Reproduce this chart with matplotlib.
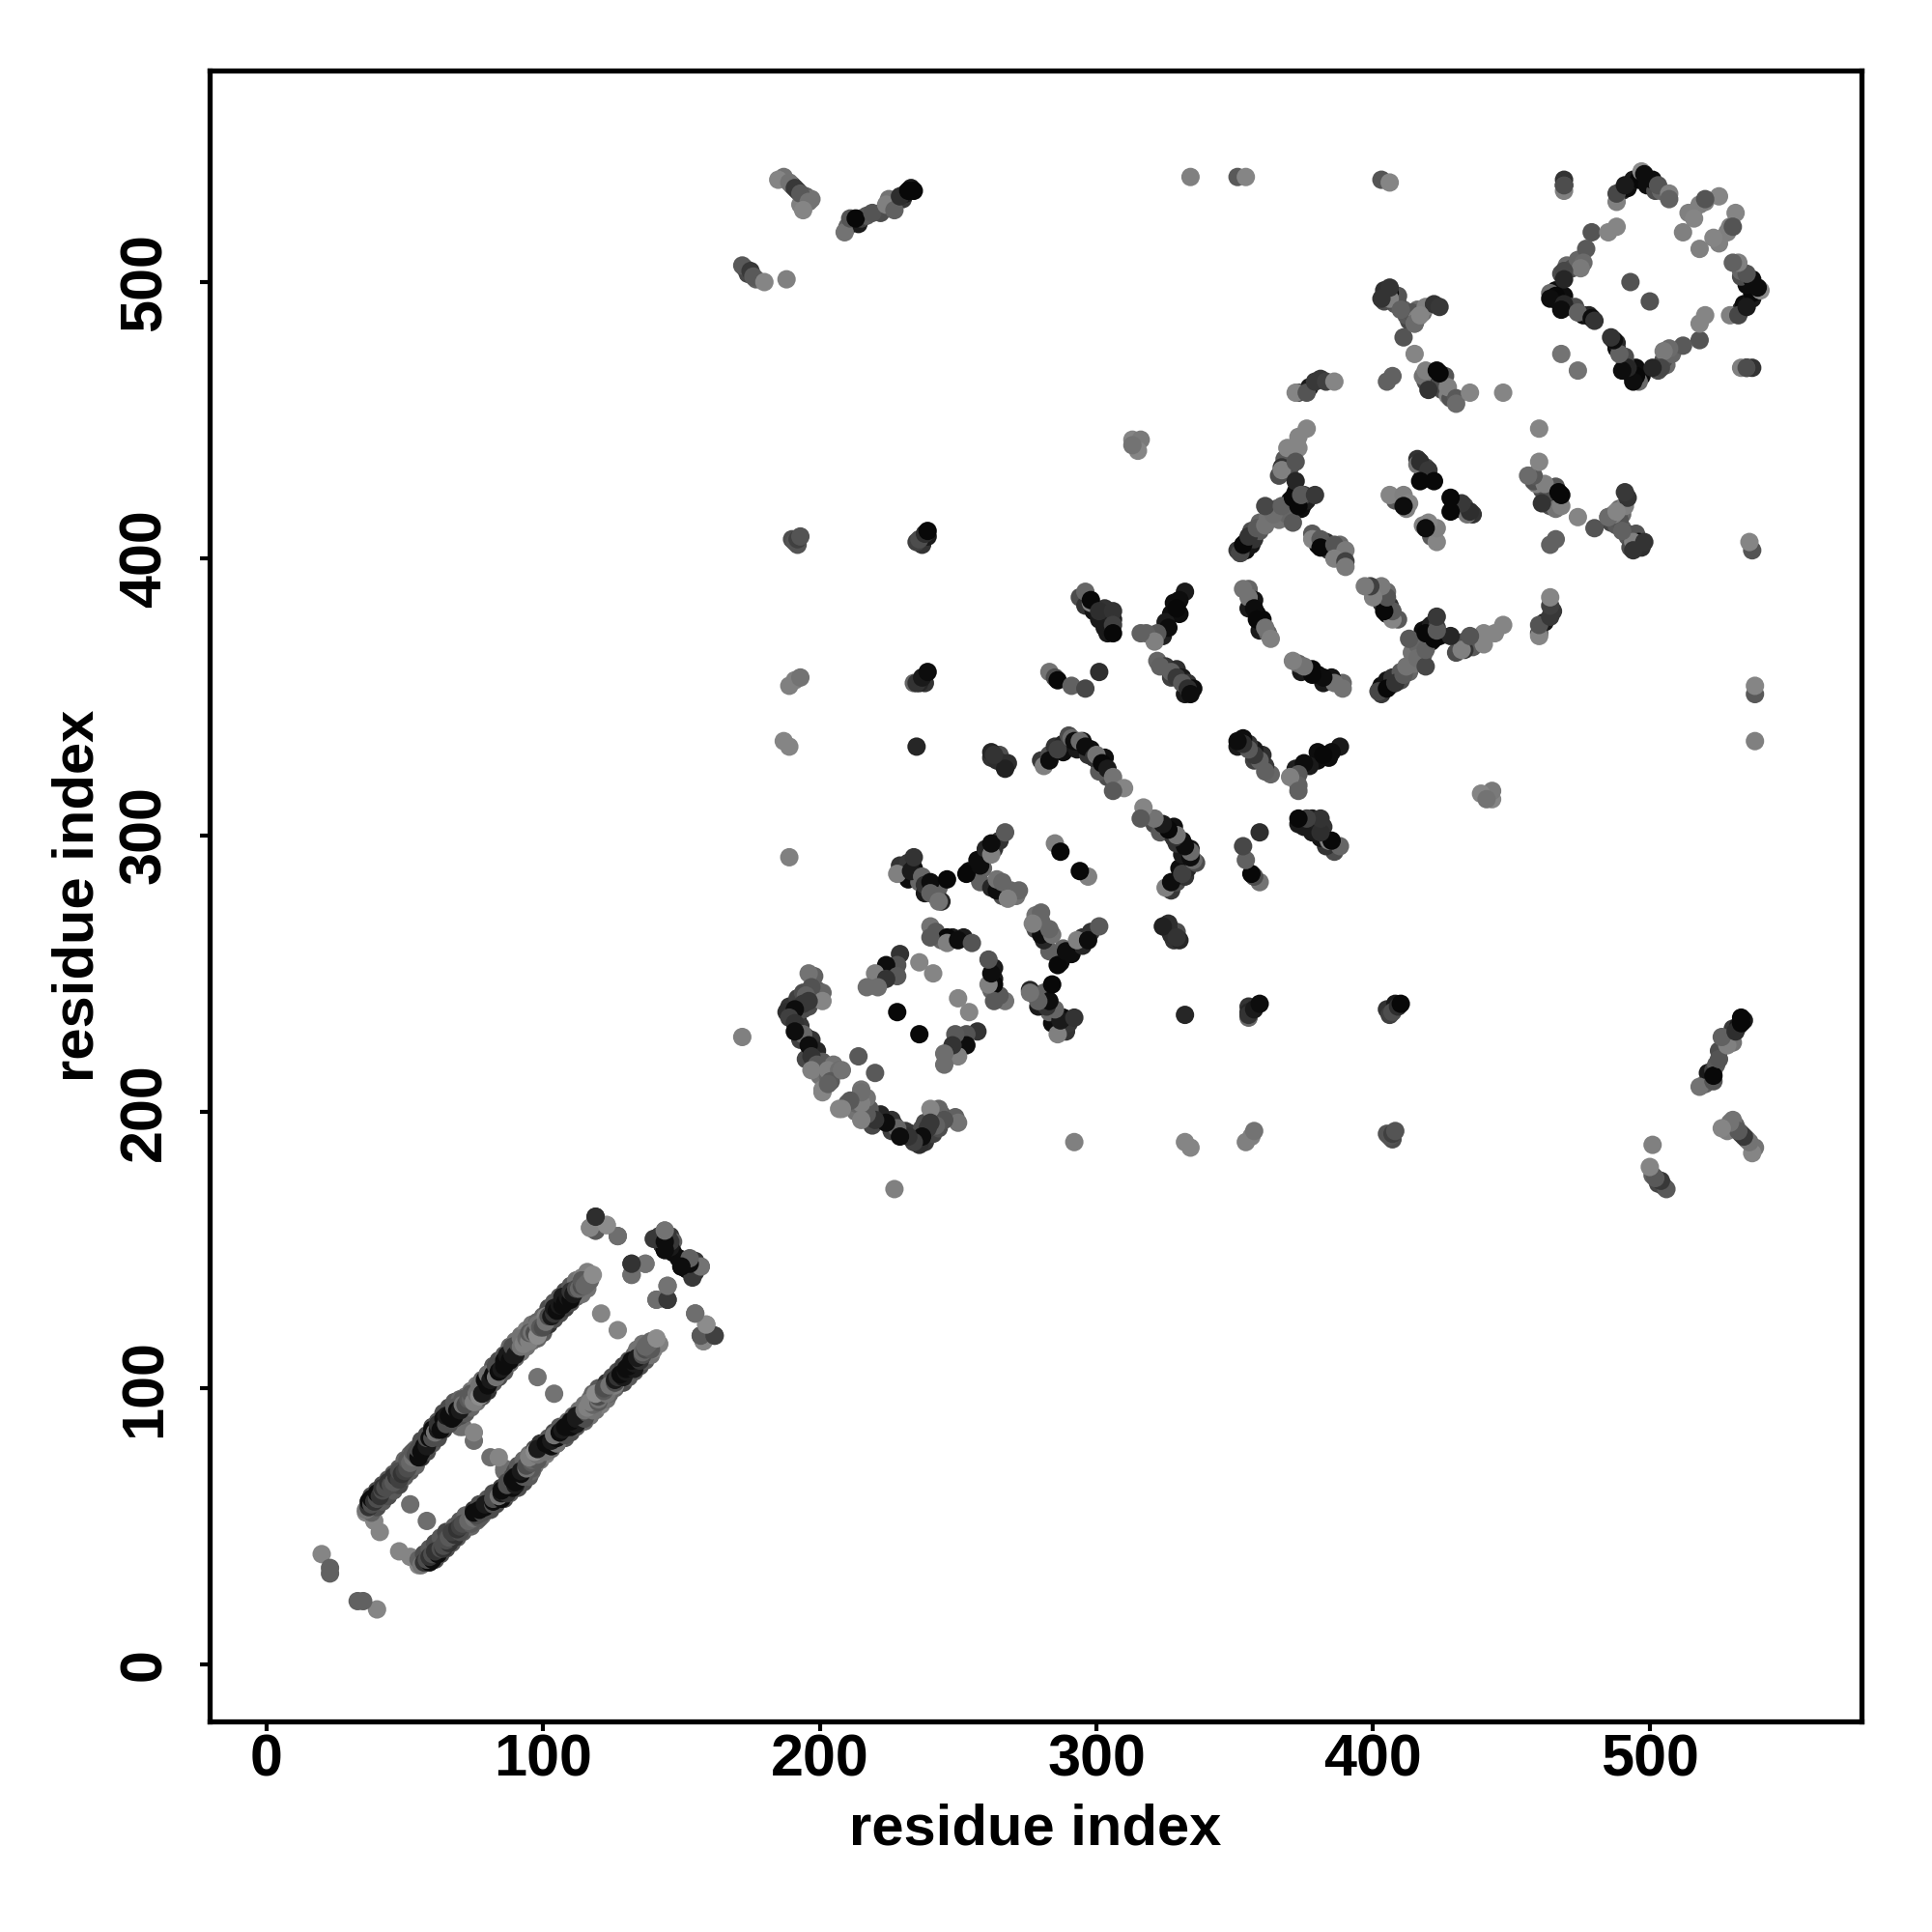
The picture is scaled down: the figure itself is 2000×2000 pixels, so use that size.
import numpy as np
import matplotlib
matplotlib.use("Agg")
import matplotlib.pyplot as plt

plt.rcParams['font.family'] = ['Liberation Sans', 'DejaVu Sans']

# contact map is symmetric, only the y > x half is listed, the rest gets mirrored
edge_x = [38,40,42,44,46,48,50,52,54,56,58,60,62,64,66,68,70,72,74,76,
          78,80,82,84,86,88,90,92,94,96,98,100,102,104,106,108,110,112,114,116]
edge_low = [55,57,59,61,63,65,68,70,72,75,77,80,82,85,87,89,90,91,93,95,
            97,99,102,104,106,109,111,113,115,117,118,120,123,125,127,129,131,133,134,136]
edge_high = [61,63,65,67,69,71,74,76,78,81,83,86,88,91,93,95,96,97,99,101,
             103,105,108,110,112,115,117,119,121,123,124,126,129,131,133,135,137,139,140,142]
edge_low_g = [.38,.3,.35,.3,.35,.28,.38,.35,.4,.2,.3,.35,.3,.25,.3,.3,.3,.35,.4,.45,
              .3,.2,.35,.3,.35,.4,.4,.45,.45,.45,.4,.35,.2,.3,.3,.25,.3,.4,.45,.45]
edge_high_g = [.3,.3,.3,.35,.35,.35,.4,.4,.4,.3,.3,.3,.35,.3,.3,.35,.4,.45,.45,.5,
               .4,.3,.35,.3,.35,.4,.45,.45,.5,.45,.4,.4,.3,.35,.35,.3,.35,.45,.5,.5]

band_x = [36,37,37,38,38,39,40,40,41,42,
          42,43,44,45,46,46,47,48,48,49,
          50,51,51,52,53,53,54,55,55,56,
          57,58,58,59,60,60,61,62,62,63,
          64,65,65,66,67,68,68,69,70,71,
          71,72,73,74,74,75,76,77,77,78,
          79,80,80,81,82,83,83,84,85,86,
          86,87,88,89,89,90,91,92,92,93,
          94,95,95,96,97,98,98,99,100,101,
          101,102,103,104,104,105,106,107,107,108,
          109,110,110,111,112,113,114,114,115,116,
          117,118]
band_y = [56,57,59,58,60,59,60,62,61,63,
          64,64,66,65,68,66,68,67,70,69,
          70,71,74,73,75,77,76,75,78,77,
          79,79,82,82,82,85,84,85,87,85,
          89,87,90,90,89,90,93,92,92,96,
          94,94,96,96,98,95,98,97,101,98,
          103,101,105,103,105,104,108,106,107,110,
          108,112,110,112,115,112,116,115,118,116,
          118,117,120,120,120,119,123,122,122,126,
          124,126,126,127,129,128,130,130,133,131,
          133,132,135,134,136,136,137,139,137,138,
          139,141]
band_g = [.45,.2,.05,.3,.05,.2,.3,.05,.2,.3,
          .2,.3,.2,.3,.2,.35,.2,.25,.3,.2,
          .25,.3,.35,.4,.45,.35,.3,.05,.3,.05,
          .05,.1,.3,.05,.3,.05,.45,.1,.2,.05,
          .05,.3,.1,.05,.05,.05,.35,.05,.1,.35,
          .45,.3,.35,.4,.35,.5,.45,.55,.45,.1,
          .05,.05,.45,.1,.05,.45,.3,.05,.1,.05,
          .05,.1,.05,.1,.3,.1,.3,.45,.45,.5,
          .4,.5,.35,.45,.3,.55,.45,.35,.3,.5,
          .45,.3,.1,.2,.1,.05,.1,.05,.1,.05,
          .1,.05,.2,.1,.3,.4,.3,.35,.4,.4,
          .4,.55]

near_x = [20,23,23,36,39,41,52,70,71,75,75,98,121]
near_y = [40,33,35,55,52,48,58,86,86,81,84,104,127]
near_g = [.52,.38,.38,.52,.52,.52,.43,.43,.43,.43,.52,.45,.52]

end_x = [142,146,143,149,151,152,155,
         117,119,119,123,127,132,132,137,140,144,145,147,144,
         153,150,154,153,157,141,145,145,155,157,158,159,162]
end_y = [155,155,152,147,146,143,145,
         158,157,162,159,155,141,145,145,154,157,153,153,150,
         146,144,141,144,144,132,137,132,127,119,117,123,119]
end_g = [.2,.22,.05,.05,.1,.22,.2,
         .52,.35,.25,.55,.43,.43,.22,.45,.22,.45,.05,.38,.05,
         .22,.05,.22,.05,.45,.43,.45,.2,.43,.35,.52,.55,.18]

cshape_x = [189,192,194,188,190,192,193,195,193,197,199,195,198,201,200,203,205,194,196,199,198,201,
            196,197,195,201,196,194,191,189,191,194,191,196,197,199,
            197,203,207,204,201,214,215,207,210]
cshape_y = [238,241,243,236,234,233,231,227,226,226,222,219,219,218,213,213,217,237,238,244,249,243,
            250,245,242,240,240,239,237,234,232,228,229,224,220,217,
            215,215,215,211,208,220,208,201,203]
cshape_g = [.2,.25,.3,.18,.12,.1,.22,.1,.25,.2,.15,.28,.22,.35,.45,.4,.45,.3,.3,.35,.38,.4,
            .45,.32,.38,.52,.22,.22,.05,.25,.2,.4,.05,.05,.2,.35,
            .5,.5,.43,.35,.52,.35,.45,.52,.38]

inner_x = [229,228,224,220,228,224,217,221,236,241,228,172]
inner_y = [257,253,253,250,249,248,245,245,254,250,236,227]
inner_g = [.2,.33,.05,.5,.35,.2,.43,.43,.52,.52,.03,.5]

hook_x = [229,232,234,235,232,236,238,241,243,244,254,256,257,259,260,263,265,258,262,265,266,271,241,244,248,252,
          228,233,234,237,238,240,240,242,243,246,
          253,258,262,262,264,264,266,267,269,272,268,
          240,242,246,240,246,250,255]
hook_y = [289,290,288,285,284,283,279,279,281,276,287,286,291,288,295,295,298,283,281,280,278,278,264,262,263,263,
          286,287,292,285,282,283,279,278,276,284,
          286,289,293,297,280,284,283,301,280,280,277,
          267,265,263,263,261,262,261]
hook_g = [.2,.22,.05,.2,.05,.4,.1,.3,.38,.15,.05,.2,.05,.4,.15,.2,.2,.38,.15,.1,.3,.45,.3,.4,.1,.1,
          .5,.1,.2,.4,.2,.05,.38,.38,.45,.03,
          .03,.05,.5,.05,.05,.45,.4,.35,.4,.4,.5,
          .45,.35,.03,.35,.5,.05,.33]

peak_x = [262,265,266,268,280,283,285,288,288,290,293,295,297,298,301,303,304,301,
          187,189,189,235,262,264,267,263,
          281,283,286,291,292,294,296,299,300,302,304,306,310,306,
          285,287]
peak_y = [328,329,326,326,327,329,332,333,330,336,331,334,329,331,326,328,321,323,
          334,332,292,332,330,327,324,329,
          325,327,331,335,334,334,332,328,329,326,324,321,317,316,
          297,294]
peak_g = [.2,.3,.15,.18,.22,.3,.2,.15,.05,.3,.1,.08,.2,.06,.12,.06,.3,.35,
          .52,.52,.5,.15,.15,.18,.13,.2,
          .5,.05,.25,.42,.05,.42,.05,.2,.45,.03,.1,.45,.52,.35,
          .5,.03]

upper_x = [322,325,327,329,331,333,332,335,294,296,299,301,303,303,306,304,328,327,330,325,324,
           323,327,329,331,333,334,
           296,298,298,301,306,306,306,
           332,330,329,326,322,318,321,316,
           283,285,286,291,296,301]
upper_y = [363,361,357,360,357,355,351,353,386,383,381,378,382,375,378,373,384,380,380,377,372,
           361,359,357,355,353,351,
           388,384,385,381,381,376,373,
           388,385,382,375,373,373,370,373,
           359,357,356,354,353,359]
upper_g = [.4,.22,.25,.18,.1,.2,.1,.05,.3,.2,.08,.1,.2,.1,.12,.1,.05,.05,.05,.1,.12,
           .38,.38,.22,.35,.18,.05,
           .4,.5,.03,.18,.2,.25,.03,
           .1,.05,.03,.05,.35,.38,.5,.38,
           .45,.3,.03,.38,.28,.18]

column_x = [187,190,192,195,197,193,210,214,215,217,222,225,230,231,233,173,174,177,314,
            192,190,237,235,239,238,234,236,
            191,192,193,236,238,239,189,191,193,235,237,239,
            172,175,176,180,188,
            185,189,191,193,196,194,209,211,213,219,224,227,229,232,234,
            334,351,354,403,406,
            313,316,315,313]
column_y = [538,535,533,531,530,528,520,521,523,524,525,530,530,532,534,505,503,501,441,
            405,407,405,406,408,355,355,355,
            406,407,408,407,409,410,354,356,357,355,357,359,
            506,504,502,500,501,
            537,536,534,532,529,526,518,523,523,525,528,526,531,533,533,
            538,538,538,537,536,
            443,443,439,441]
column_g = [.45,.3,.22,.38,.45,.5,.38,.1,.25,.35,.3,.45,.22,.1,.1,.3,.28,.38,.5,
            .33,.3,.2,.25,.1,.2,.4,.15,
            .33,.25,.33,.3,.18,.03,.5,.5,.45,.2,.1,.05,
            .35,.22,.35,.52,.5,
            .52,.45,.22,.35,.45,.52,.45,.33,.03,.33,.5,.38,.18,.03,.03,
            .5,.35,.52,.33,.52,
            .52,.48,.52,.45]

helix_x = [351,352,354,354,356,357,356,359,359,362,365,366,369,372,375,374,376,370,366,368,370,
           355,357,355,358,360,359,362,378,380,383,384,387,388,373,377,381,
           353,355,357,358,361,363,
           352,353,355,358,361,364,361,367,371,375,371,373,
           368,369,373,373,376,
           367,367,372,372,374,379,
           378,381,381,386,390,386,390,390]
helix_y = [403,402,403,406,405,407,410,410,413,415,418,414,416,424,420,418,421,421,430,434,433,
           389,385,382,380,378,374,373,409,405,406,403,402,405,460,462,465,
           389,386,382,378,375,371,
           402,405,408,411,412,416,419,419,413,423,422,419,
           436,440,440,444,447,
           433,432,428,435,423,423,
           407,407,404,405,403,400,399,397]
helix_g = [.22,.3,.05,.1,.08,.2,.3,.35,.4,.45,.35,.45,.4,.03,.03,.05,.12,.05,.3,.22,.3,
           .4,.08,.1,.05,.03,.1,.4,.35,.03,.2,.2,.35,.42,.25,.1,.22,
           .45,.45,.05,.03,.45,.5,
           .28,.03,.2,.35,.45,.43,.28,.38,.35,.25,.03,.03,
           .35,.52,.52,.52,.52,
           .2,.5,.15,.33,.35,.22,
           .52,.35,.03,.33,.48,.5,.25,.48]

center_x = [419,422,421,424,425,427,428,418,416,419,418,420,408,412,405,407,408,411,413,416,418,409,412,404,
            372,376,379,383,386,405,407,
            419,423,426,420,427,430,430,424,435,447,
            416,417,420,417,422,406,411,413,411,
            404,406,409,414,416,411,415,419,422,424,
            415,406,410,415,417,406,403]
center_y = [464,465,463,463,461,459,458,466,436,433,430,429,421,418,496,494,492,490,486,490,489,495,488,493,
            460,460,464,464,464,464,466,
            468,468,466,461,462,458,456,467,460,460,
            434,435,432,428,428,423,423,420,419,
            497,496,492,489,487,480,474,491,492,491,
            485,494,490,485,488,498,494]
center_g = [.3,.1,.05,.3,.3,.5,.32,.45,.2,.3,.05,.08,.35,.5,.05,.2,.35,.38,.28,.42,.42,.33,.35,.3,
            .52,.33,.22,.25,.52,.38,.38,
            .5,.03,.33,.2,.5,.35,.42,.03,.52,.52,
            .45,.18,.22,.03,.03,.52,.5,.52,.05,
            .18,.03,.33,.33,.5,.33,.52,.5,.2,.22,
            .38,.5,.38,.42,.52,.2,.2]

diamond_x = [490,492,494,496,499,502,504,466,467,469,471,473,476,478,468,470,472,474,518,514,469,
             469,469,469,488,488,491,497,498,501,503,507,507,
             479,485,488,477,476,475,469,469,
             464,466,464,469,468,474,479,480,468,493,
             525,520,520,516,512]
diamond_y = [533,534,537,537,535,533,533,497,493,495,491,491,488,488,503,506,505,508,528,525,537,
             535,533,535,529,532,535,540,539,537,535,532,530,
             518,518,520,512,507,505,504,501,
             496,495,494,492,490,489,487,486,474,500,
             531,529,530,523,518]
diamond_g = [.15,.05,.1,.03,.05,.3,.4,.05,.03,.05,.38,.3,.05,.15,.3,.42,.3,.4,.5,.5,.2,
             .03,.5,.3,.5,.28,.1,.55,.05,.05,.33,.5,.38,
             .33,.52,.52,.35,.42,.48,.28,.15,
             .42,.03,.05,.15,.05,.38,.05,.2,.45,.32,
             .52,.5,.33,.52,.5]

x_ticks = [0, 100, 200, 300, 400, 500]
y_ticks = [0, 100, 200, 300, 400, 500]

groups = [(near_x, near_y, near_g),
          (edge_x, edge_low, edge_low_g), (edge_x, edge_high, edge_high_g),
          (band_x, band_y, band_g), (end_x, end_y, end_g),
          (cshape_x, cshape_y, cshape_g), (inner_x, inner_y, inner_g),
          (hook_x, hook_y, hook_g), (peak_x, peak_y, peak_g),
          (upper_x, upper_y, upper_g), (column_x, column_y, column_g),
          (helix_x, helix_y, helix_g), (center_x, center_y, center_g),
          (diamond_x, diamond_y, diamond_g)]

fig = plt.figure(figsize=(10, 10), dpi=200)
ax = fig.add_axes([217/2000, 1 - 1782/2000, 1710/2000, 1709/2000])

for gx, gy, gg in groups:
    col = [str(v) for v in gg]
    ax.scatter(gx, gy, s=47, c=col, linewidths=0)
    ax.scatter(gy, gx, s=47, c=col, linewidths=0)

ax.set_xlim(-20.5, 576.5)
ax.set_ylim(-20.5, 576.5)
ax.set_xticks(x_ticks)
ax.set_yticks(y_ticks)
ax.tick_params(axis='x', length=3.5, width=1.5, labelsize=22, pad=1)
ax.tick_params(axis='y', length=3.5, width=1.5, labelsize=22, pad=10)
for lab in ax.get_xticklabels():
    lab.set_fontweight('bold')
for lab in ax.get_yticklabels():
    lab.set_fontweight('bold')
    lab.set_rotation(90)
    lab.set_va('center')
for sp in ax.spines.values():
    sp.set_linewidth(1.9)

ax.set_xlabel("residue index", fontsize=21.5, fontweight='bold', labelpad=5.5)
ax.set_ylabel("residue index", fontsize=21.5, fontweight='bold', labelpad=5)

fig.savefig("out.png", dpi=200)
